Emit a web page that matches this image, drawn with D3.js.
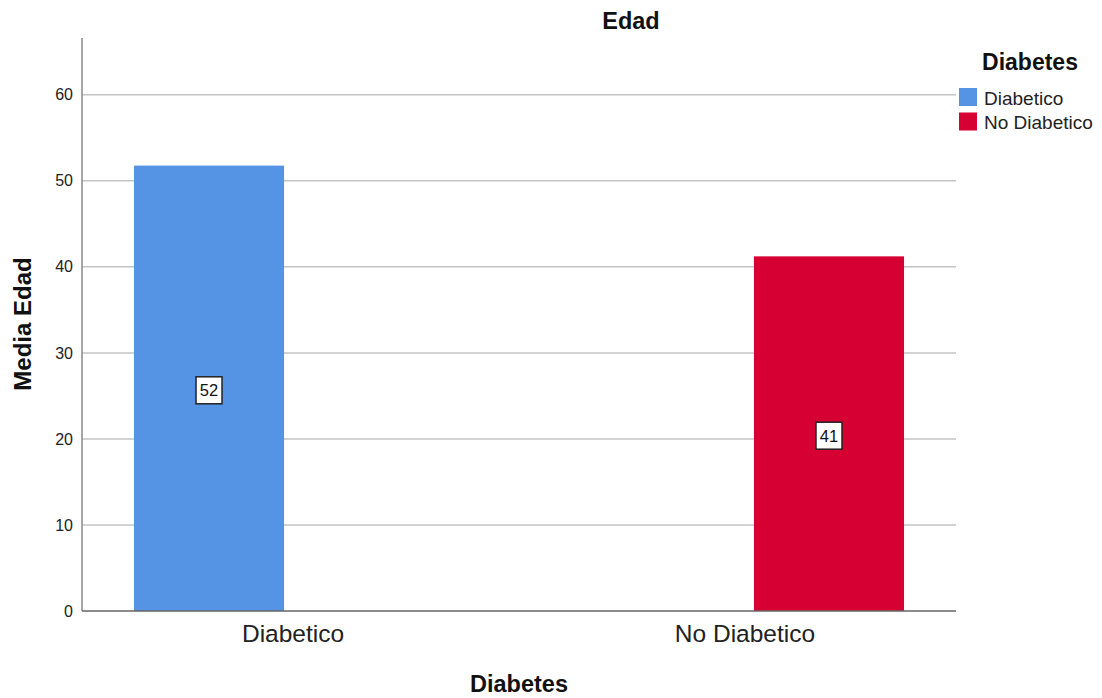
<!DOCTYPE html>
<html><head><meta charset="utf-8">
<script src="https://cdn.jsdelivr.net/npm/d3@7"></script>
<style>body{margin:0;background:#fff;}text{font-family:Arial,"Liberation Sans",sans-serif;}</style>
</head><body>
<svg id="c" width="1102" height="698"></svg>
<script>
const categories = ["Diabetico", "No Diabetico"];
const series = ["Diabetico", "No Diabetico"];
const meanValues = [51.77, 41.22];
const valueLabels = ["52", "41"];
const yTicks = [0, 10, 20, 30, 40, 50, 60];
const colors = ["#5594e4", "#d70033"];

const svg = d3.select("#c");
const L = 82, R = 956, T = 38, B = 611;
const y = d3.scaleLinear().domain([0, 66.6]).range([B, T]);
const x0 = d3.scaleBand().domain(categories).range([L, R]).paddingInner(0.296).paddingOuter(0.115);
const x1 = d3.scaleBand().domain(series).range([0, x0.bandwidth()]).paddingInner(0.107).paddingOuter(0);
const color = d3.scaleOrdinal().domain(series).range(colors);

// gridlines
svg.append("g").selectAll("line").data(yTicks.filter(d => d > 0)).join("line")
  .attr("x1", L).attr("x2", R).attr("y1", d => y(d)).attr("y2", d => y(d))
  .attr("stroke", "#c4c4c4").attr("stroke-width", 1.5);

// bars
const data = categories.map((c, i) => ({cat: c, ser: series[i], v: meanValues[i], lab: valueLabels[i]}));
svg.append("g").selectAll("rect").data(data).join("rect")
  .attr("x", d => x0(d.cat) + x1(d.ser)).attr("width", x1.bandwidth())
  .attr("y", d => y(d.v)).attr("height", d => y(0) - y(d.v))
  .attr("fill", d => color(d.ser));

// axes
const yAxis = svg.append("g").attr("transform", `translate(${L},0)`)
  .call(d3.axisLeft(y).tickValues(yTicks).tickSize(0).tickPadding(9));
yAxis.select(".domain").attr("stroke", "#888").attr("stroke-width", 1.5);
yAxis.selectAll("text").attr("font-size", 16).attr("fill", "#222").attr("font-family", "Arial, 'Liberation Sans', sans-serif");
yAxis.select(".domain").attr("d", `M0,${B}V${T}`);

const xAxis = svg.append("g").attr("transform", `translate(0,${B})`)
  .call(d3.axisBottom(x0).tickSize(0).tickPadding(14));
xAxis.select(".domain").attr("stroke", "#666").attr("stroke-width", 1.5).attr("d", `M${L},0H${R}`);
xAxis.selectAll("text").attr("font-size", 24.5).attr("fill", "#222").attr("font-family", "Arial, 'Liberation Sans', sans-serif");

// value labels
const lab = svg.append("g").selectAll("g").data(data).join("g")
  .attr("transform", d => `translate(${x0(d.cat) + x1(d.ser) + x1.bandwidth() / 2},${y(d.v / 2) + 2})`);
lab.append("rect").attr("x", -13).attr("y", -13.5).attr("width", 26).attr("height", 27)
  .attr("fill", "#fff").attr("stroke", "#222").attr("stroke-width", 1.5);
lab.append("text").attr("text-anchor", "middle").attr("dy", "0.36em").attr("font-size", 16.5)
  .attr("fill", "#111").text(d => d.lab);

// titles
svg.append("text").attr("x", 631).attr("y", 29).attr("text-anchor", "middle")
  .attr("font-size", 23.5).attr("font-weight", "bold").attr("fill", "#111").text("Edad");
svg.append("text").attr("x", 519).attr("y", 692).attr("text-anchor", "middle")
  .attr("font-size", 23.5).attr("font-weight", "bold").attr("fill", "#111").text("Diabetes");
svg.append("text").attr("transform", "translate(31,324) rotate(-90)").attr("text-anchor", "middle")
  .attr("font-size", 24).attr("font-weight", "bold").attr("fill", "#111").text("Media Edad");

// legend
svg.append("text").attr("x", 1030).attr("y", 70).attr("text-anchor", "middle")
  .attr("font-size", 23).attr("font-weight", "bold").attr("fill", "#111").text("Diabetes");
const lg = svg.append("g").selectAll("g").data(series).join("g")
  .attr("transform", (d, i) => `translate(959,${88 + i * 24.5})`);
lg.append("rect").attr("width", 18).attr("height", 18).attr("fill", d => color(d));
lg.append("text").attr("x", 25).attr("y", 16.5).attr("font-size", 19).attr("fill", "#222").text(d => d);
</script>
</body></html>
